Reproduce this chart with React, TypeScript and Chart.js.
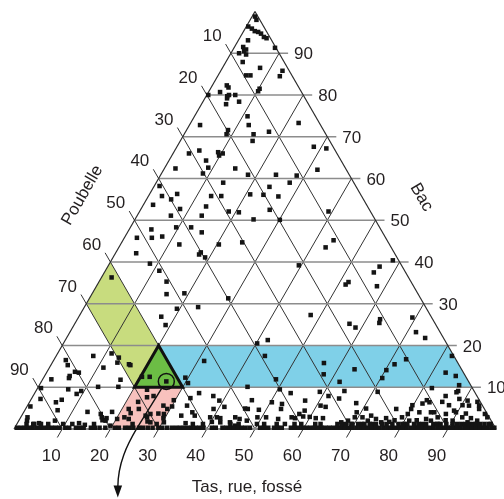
import React, { useEffect, useRef } from 'react';
import { Chart, registerables } from 'chart.js';

Chart.register(...registerables);

const SQ = Math.sqrt(3) / 2;

// grid steps and tick labels (percent)
const gridSteps = [10, 20, 30, 40, 50, 60, 70, 80, 90];
const tickLabels = ['10', '20', '30', '40', '50', '60', '70', '80', '90'];

// axis titles
const titleLeft = 'Poubelle';
const titleRight = 'Bac';
const titleBottom = 'Tas, rue, fossé';

// highlighted zones, vertices as [tas, bac]
const lightGreenZone: [number, number][] = [[0, 30], [0, 40], [20, 20], [20, 10]];
const darkGreenZone: [number, number][] = [[20, 10], [20, 20], [30, 10]];
const blueZone: [number, number][] = [[20, 20], [80, 20], [90, 10], [30, 10]];
const pinkZone: [number, number][] = [[20, 0], [30, 0], [30, 10], [20, 10]];

// circled sample [tas, bac]
const circledSample: [number, number] = [25.9, 11.4];

// scattered samples [tas, bac]
const upperSamples: [number, number][] = [
  [0.6, 98.8], [1.3, 98.0], [0.4, 96.4], [1.4, 95.9], [2.3, 95.3], [3.1, 95.1], [3.9, 94.7], [4.9, 93.9],
  [5.6, 93.6], [2.0, 93.1], [8.5, 91.3], [1.8, 91.5], [2.7, 90.9], [2.5, 90.5], [1.7, 90.0], [3.3, 89.7],
  [3.5, 87.9], [7.8, 86.5], [12.8, 85.8], [12.9, 84.5], [5.8, 84.7], [6.7, 84.7], [10.2, 81.5], [10.2, 80.9],
  [3.0, 82.3], [3.6, 81.8], [2.4, 80.7], [4.4, 79.7], [4.6, 80.0], [5.9, 80.0], [4.6, 79.2], [7.5, 78.4],
  [5.1, 77.8], [11.0, 74.9], [12.3, 72.8], [2.2, 72.8], [22.4, 73.3], [17.3, 71.2], [14.4, 70.6], [8.6, 71.6],
  [8.8, 70.6], [15.0, 69.0], [28.4, 67.6], [31.2, 67.2], [0.3, 80.0],
];

const middleSamples: [number, number][] = [
  [3.3, 66.0], [5.1, 66.7], [9.2, 66.3], [9.8, 65.5], [10.3, 66.0], [7.7, 64.3], [9.0, 62.6], [2.3, 62.4],
  [8.6, 61.2], [14.7, 62.4], [18.1, 60.9], [23.9, 60.9], [28.3, 60.7], [31.9, 62.1], [13.9, 59.0], [1.1, 58.2],
  [5.7, 56.3], [2.8, 55.8], [13.0, 55.8], [15.1, 55.8], [20.9, 56.2], [23.7, 56.1], [24.0, 58.0], [27.0, 55.7],
  [27.7, 59.0], [5.1, 55.0], [2.0, 53.7], [8.1, 52.7], [13.2, 53.3], [18.5, 52.1], [20.7, 51.9], [7.0, 51.1],
  [13.4, 51.1], [24.6, 50.2], [4.6, 47.8], [9.5, 48.3], [12.6, 48.3], [2.6, 45.8], [5.7, 45.8], [7.7, 46.1],
  [15.4, 47.1], [12.2, 44.2], [20.4, 44.2], [25.0, 44.7], [17.6, 42.3], [17.5, 41.8], [19.1, 41.1], [4.3, 42.1],
  [8.4, 39.6], [2.1, 36.3], [11.2, 37.9], [14.0, 35.3], [15.5, 32.3], [19.1, 32.5], [28.8, 31.3], [23.6, 29.2],
  [19.4, 28.8], [26.8, 52.5], [30.1, 50.1], [39.2, 52.1], [43.7, 45.2], [42.9, 43.5], [39.5, 39.2], [58.4, 40.4],
  [56.4, 38.9], [55.9, 37.5], [51.8, 35.2], [51.5, 34.6], [58.2, 34.2], [47.9, 27.3], [57.0, 25.2], [58.7, 24.3],
  [62.8, 26.3], [63.1, 25.4], [69.3, 26.7], [71.8, 23.2], [74.4, 21.8], [40.2, 20.5], [42.0, 21.3],
];

const lowerRightSamples: [number, number][] = [
  [43.3, 17.5], [48.4, 11.9], [56.4, 15.8], [57.7, 13.1], [63.5, 14.3], [61.9, 11.3], [70.2, 14.1], [70.3, 12.2],
  [71.2, 15.5], [73.0, 16.7], [82.1, 17.5], [82.8, 13.5], [85.3, 12.7], [87.1, 10.5], [87.6, 9.1], [87.4, 8.8],
  [81.8, 9.8], [53.1, 8.6], [59.0, 8.9], [64.0, 9.1], [61.3, 7.9], [63.8, 7.3], [71.0, 8.9], [67.9, 6.2],
  [57.0, 6.8], [58.1, 4.4], [52.6, 6.0], [48.5, 4.6], [50.9, 2.8], [60.8, 5.6], [61.3, 2.6], [57.0, 2.6],
  [57.4, 3.6], [58.5, 3.0], [70.6, 4.9], [69.1, 4.0], [70.9, 2.8], [79.8, 5.7], [81.7, 6.1], [85.6, 6.5],
  [87.4, 5.7], [90.2, 5.7], [91.6, 5.6], [92.9, 6.5], [93.7, 5.6], [95.9, 3.6], [96.8, 2.8], [76.9, 4.8],
  [79.1, 2.8], [75.9, 2.6], [84.5, 4.0], [86.5, 2.8], [87.8, 3.6], [89.7, 4.0], [91.6, 2.8], [83.0, 6.4],
  [85.6, 7.9], [88.8, 7.2], [72.5, 3.2], [73.9, 2.4], [79.9, 3.6], [80.0, 4.8], [82.1, 4.0], [82.2, 6.9],
  [89.1, 4.4], [85.2, 4.0], [90.7, 6.8], [94.1, 4.8], [91.9, 3.7], [93.5, 2.6], [88.5, 2.1], [90.0, 2.0],
  [81.0, 2.0], [77.9, 2.1], [77.0, 1.7], [82.5, 2.1], [84.3, 2.4], [85.5, 2.0], [75.4, 1.6], [72.4, 2.0],
  [69.3, 2.8], [68.3, 2.0], [67.1, 1.6], [69.4, 1.2], [73.8, 1.2], [80.4, 1.2], [87.3, 1.2], [93.3, 1.6],
  [95.1, 2.0], [98.3, 1.2],
];

const lowerLeftSamples: [number, number][] = [
  [17.1, 26.9], [19.0, 24.9], [7.7, 17.5], [11.2, 18.1], [13.5, 15.9], [13.2, 17.1], [16.1, 15.5], [16.5, 15.3],
  [11.2, 14.7], [2.5, 16.5], [3.5, 15.3], [5.8, 13.7], [6.7, 13.5], [5.2, 12.7], [5.3, 12.2], [1.8, 11.9],
  [16.2, 11.8], [20.3, 12.5], [21.9, 12.5], [25.9, 11.4], [29.4, 12.3], [30.6, 11.0], [31.3, 16.3], [12.4, 10.1],
  [16.6, 10.1], [0.7, 9.8], [6.5, 9.5], [9.4, 9.1], [8.8, 8.4], [22.9, 9.4], [32.9, 7.4], [34.1, 8.6],
  [1.9, 7.2], [6.4, 7.0], [5.5, 6.4], [0.7, 5.4], [6.8, 4.5], [13.2, 4.1], [22.5, 6.5], [21.4, 4.8],
  [22.3, 3.8], [21.5, 2.8], [26.5, 3.6], [28.2, 5.6], [29.4, 4.8], [30.1, 5.4], [29.3, 3.6], [26.2, 2.8],
  [27.5, 1.6], [33.1, 3.2], [35.0, 4.0], [35.9, 3.2], [33.1, 5.6], [39.3, 2.8], [39.0, 4.8], [40.7, 2.8],
  [42.0, 1.6], [44.0, 1.6], [44.5, 2.8], [45.5, 4.9], [1.4, 2.8], [1.7, 2.0], [16.2, 3.6], [16.8, 2.8],
  [17.9, 2.6], [12.8, 1.4], [11.5, 1.2], [3.6, 1.2], [4.5, 1.4], [18.3, 4.1], [7.5, 2.0], [14.2, 1.0],
  [17.3, 2.1], [18.0, 2.0], [20.2, 2.4], [22.6, 2.4], [23.5, 4.8], [25.7, 3.2], [26.8, 1.8], [28.1, 3.7],
  [29.7, 2.6], [30.3, 1.6], [29.7, 6.9], [23.8, 7.6], [25.0, 7.9], [19.6, 0.8], [37.4, 7.9], [39.2, 6.8],
  [41.0, 5.3], [43.4, 10.1], [45.9, 6.9], [46.1, 4.8], [50.3, 6.4], [53.0, 4.8], [50.4, 9.5], [62.0, 5.3],
  [59.9, 2.9], [62.8, 2.6], [34.9, 1.4], [41.5, 2.6], [40.2, 1.7], [45.6, 2.4], [45.5, 0.8], [47.3, 2.0],
  [49.1, 2.8], [51.3, 1.2], [49.8, 1.2], [53.6, 2.4], [53.9, 1.2], [55.6, 1.2], [56.2, 2.8],
];

// samples lying almost on the Bac = 0 base
const baseRowBac = 0.3;
const baseRowTas = [
  0.5, 1.3, 2.1, 2.9, 3.7, 4.5, 5.3, 6.1, 6.9, 7.7, 8.5, 9.3, 10.5, 11.3, 12.7, 13.5, 14.3, 15.8, 16.6, 17.6,
  18.8, 20.8, 21.6, 22.9, 23.7, 24.6, 25.8, 26.6, 27.6, 28.6, 29.8, 30.6, 31.6, 32.6,
  33.5, 34.3, 35.1, 35.9, 36.7, 37.5, 38.3, 39.1, 40.9, 41.7, 43.1, 43.9, 44.7, 45.5, 46.3, 47.1, 47.9, 48.8,
  50.9, 51.7, 52.6, 53.8, 54.6, 55.4, 57.3, 58.1, 58.9, 59.7, 60.5, 61.3, 62.1, 62.9, 63.7, 64.5, 65.3,
  66.1, 66.9, 67.7, 68.5, 69.3, 70.1, 70.9, 71.7, 72.5, 73.3, 74.1, 74.9, 75.7, 76.5, 77.3, 78.1, 78.9, 79.7,
  80.5, 81.3, 82.1, 82.9, 83.7, 84.5, 85.3, 86.1, 86.9, 87.7, 88.5, 89.3, 90.1, 90.9, 91.7, 92.5, 93.3, 94.1,
  94.9, 95.7, 96.5, 97.3, 98.1, 98.9, 99.5,
];
const secondRowBac = 1.2;
const secondRowTas = [
  2.0, 3.4, 5.0, 6.5, 9.6, 16.0, 24.0, 29.0, 36.5, 38.6, 44.3, 46.0, 57.6, 59.0, 61.9, 63.0,
  66.5, 67.4, 68.3, 69.6, 70.8, 71.6, 72.1, 73.2, 74.5, 75.8, 76.7, 77.9, 79.2, 80.1, 81.0, 82.4, 83.3,
  84.1, 84.9, 86.4, 87.2, 87.9, 89.1, 90.4, 91.3, 92.2, 93.0, 93.8, 94.6, 95.2, 96.1, 97.0, 97.9,
];

const allSamples: [number, number][] = [
  ...upperSamples,
  ...middleSamples,
  ...lowerRightSamples,
  ...lowerLeftSamples,
  ...baseRowTas.map((t) => [t, baseRowBac] as [number, number]),
  ...secondRowTas.map((t) => [t, secondRowBac] as [number, number]),
];

const toXY = ([t, b]: [number, number]) => ({ x: t + b / 2, y: b * SQ });

const FONT = '17px "Liberation Sans", Arial, sans-serif';
const TEXT = '#231f20';

const ternaryPlugin = {
  id: 'ternary',
  beforeDatasetsDraw(chart: any) {
    const { ctx, scales } = chart;
    const xs = scales.x;
    const ys = scales.y;
    const P = (t: number, b: number): [number, number] => [
      xs.getPixelForValue(t + b / 2),
      ys.getPixelForValue(b * SQ),
    ];
    const poly = (pts: [number, number][], fill: string) => {
      ctx.beginPath();
      pts.forEach(([t, b], i) => {
        const [px, py] = P(t, b);
        if (i === 0) ctx.moveTo(px, py);
        else ctx.lineTo(px, py);
      });
      ctx.closePath();
      ctx.fillStyle = fill;
      ctx.fill();
    };
    const seg = (a: [number, number], c: [number, number]) => {
      ctx.beginPath();
      ctx.moveTo(a[0], a[1]);
      ctx.lineTo(c[0], c[1]);
      ctx.stroke();
    };
    ctx.save();
    poly(lightGreenZone, '#c8dc7e');
    poly(blueZone, '#7fd0e8');
    poly(pinkZone, '#f8c1bd');
    poly(darkGreenZone, '#6cbd45');

    // Poubelle and Tas lines with ticks
    ctx.strokeStyle = '#333333';
    ctx.lineWidth = 1;
    gridSteps.forEach((k) => {
      const e = P(0, 100 - k);
      seg([e[0] - 5.3, e[1] - 9.2], P(100 - k, 0));
      const bt = P(k, 0);
      seg([bt[0] - 4.9, bt[1] + 8.5], P(k, 100 - k));
    });
    // Bac lines (grey) with ticks
    ctx.strokeStyle = '#8c8c8c';
    ctx.lineWidth = 1.6;
    gridSteps.forEach((k) => {
      const a = P(0, k);
      const c = P(100 - k, k);
      seg(a, [c[0] + 9, c[1]]);
    });
    // outline
    ctx.strokeStyle = '#8c8c8c';
    ctx.lineWidth = 2;
    seg(P(0, 0), P(100, 0));
    ctx.strokeStyle = '#2a2a2a';
    ctx.lineWidth = 1.2;
    seg(P(0, 0), P(0, 100));
    seg(P(0, 100), P(100, 0));

    // dark triangle border
    ctx.beginPath();
    darkGreenZone.forEach(([t, b], i) => {
      const [px, py] = P(t, b);
      if (i === 0) ctx.moveTo(px, py);
      else ctx.lineTo(px, py);
    });
    ctx.closePath();
    ctx.strokeStyle = '#111';
    ctx.lineWidth = 3;
    ctx.lineJoin = 'miter';
    ctx.stroke();
    ctx.restore();
  },
  afterDatasetsDraw(chart: any) {
    const { ctx, scales } = chart;
    const xs = scales.x;
    const ys = scales.y;
    const P = (t: number, b: number): [number, number] => [
      xs.getPixelForValue(t + b / 2),
      ys.getPixelForValue(b * SQ),
    ];
    ctx.save();
    // circle around sample
    const [cx, cy] = P(circledSample[0], circledSample[1]);
    ctx.beginPath();
    ctx.arc(cx, cy, 8, 0, Math.PI * 2);
    ctx.strokeStyle = '#111';
    ctx.lineWidth = 1.5;
    ctx.stroke();
    // arrow
    ctx.beginPath();
    ctx.moveTo(cx - 4.8, cy + 7.3);
    ctx.lineTo(cx - 29.5, cy + 47);
    ctx.bezierCurveTo(cx - 39, cy + 63, cx - 48.5, cy + 82, cx - 48.5, cy + 106);
    ctx.strokeStyle = '#111';
    ctx.lineWidth = 1.4;
    ctx.stroke();
    ctx.beginPath();
    ctx.moveTo(cx - 48.5, cy + 116);
    ctx.lineTo(cx - 52.8, cy + 104);
    ctx.lineTo(cx - 44.2, cy + 104);
    ctx.closePath();
    ctx.fillStyle = '#111';
    ctx.fill();

    // tick labels
    ctx.font = FONT;
    ctx.fillStyle = TEXT;
    ctx.textBaseline = 'alphabetic';
    gridSteps.forEach((k, i) => {
      const label = tickLabels[i];
      // left (Poubelle)
      const e = P(0, 100 - k);
      ctx.textAlign = 'right';
      ctx.fillText(label, e[0] - 9.3, e[1] - 9.2 - 9 + 6);
      // right (Bac)
      const r = P(100 - k, k);
      ctx.textAlign = 'left';
      ctx.fillText(label, r[0] + 15, r[1] + 6);
      // bottom (Tas)
      const bt = P(k, 0);
      ctx.textAlign = 'center';
      ctx.fillText(label, bt[0] - 11, bt[1] + 32);
    });

    // titles
    const drawRot = (text: string, x: number, y: number, ang: number) => {
      ctx.save();
      ctx.translate(x, y);
      ctx.rotate(ang);
      ctx.textAlign = 'center';
      ctx.textBaseline = 'middle';
      ctx.fillText(text, 0, 0);
      ctx.restore();
    };
    const base0 = P(0, 0);
    const apex = P(0, 100);
    const base1 = P(100, 0);
    drawRot(titleLeft, (base0[0] + apex[0]) / 2 - 52, (base0[1] + apex[1]) / 2 - 25, -Math.PI / 3);
    drawRot(titleRight, (base1[0] + apex[0]) / 2 + 46, (base1[1] + apex[1]) / 2 - 23, Math.PI / 3);
    ctx.textAlign = 'center';
    ctx.textBaseline = 'middle';
    ctx.fillText(titleBottom, (base0[0] + base1[0]) / 2 - 8, base0[1] + 58);
    ctx.restore();
  },
};

export default function App() {
  const ref = useRef<HTMLCanvasElement>(null);
  useEffect(() => {
    const canvas = ref.current;
    if (!canvas) return;
    const chart = new Chart(canvas, {
      type: 'scatter',
      data: {
        datasets: [
          {
            data: allSamples.map(toXY),
            pointStyle: 'rect',
            pointRadius: 3.2,
            pointHoverRadius: 3.2,
            backgroundColor: '#141414',
            borderWidth: 0,
            clip: false,
          } as any,
        ],
      },
      options: {
        responsive: false,
        animation: false,
        events: [],
        layout: { padding: { left: 14, right: 8, top: 11.5, bottom: 70 } },
        plugins: { legend: { display: false }, tooltip: { enabled: false } },
        scales: {
          x: { type: 'linear', min: 0, max: 100, display: false },
          y: { type: 'linear', min: 0, max: 100 * SQ, display: false },
        },
      },
      plugins: [ternaryPlugin],
    });
    return () => chart.destroy();
  }, []);
  return (
    <div style={{ position: 'absolute', left: 0, top: 0, width: 504, height: 499, background: '#fff' }}>
      <canvas ref={ref} width={504} height={499} style={{ width: 504, height: 499, display: 'block' }} />
    </div>
  );
}
